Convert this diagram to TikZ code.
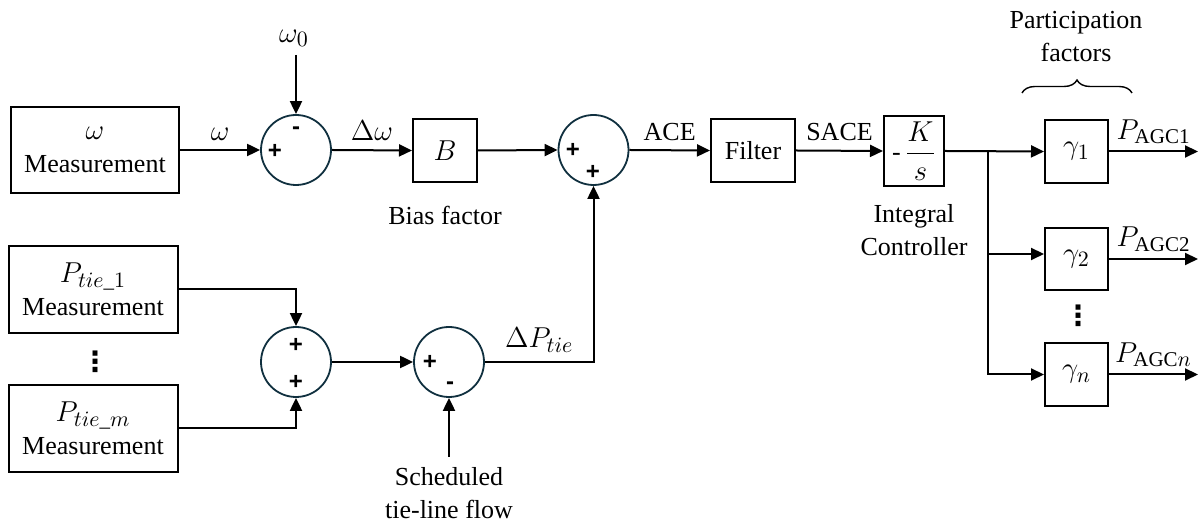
\documentclass[tikz,border=0pt]{standalone}
\usepackage{amsmath}
\usepackage{fontspec}
\setmainfont{Liberation Serif}
\newfontfamily\signfont{Liberation Sans}
\newfontfamily\dotfont{DejaVu Sans}
\usetikzlibrary{arrows.meta,decorations.pathreplacing,calc}
\definecolor{circcol}{HTML}{10303F}
\newcommand{\mth}[1]{{\fontsize{15}{16.5}\selectfont$#1$}}
\begin{document}
\begin{tikzpicture}[x=0.5pt,y=-0.5pt,
  font=\rmfamily\fontsize{13}{16.5}\selectfont,
  blk/.style={draw,line width=1pt,inner sep=0pt,align=center},
  sumc/.style={draw=circcol,line width=0.9pt,circle,minimum size=35pt,inner sep=0pt},
  sgn/.style={font=\signfont\bfseries\fontsize{12}{12}\selectfont,inner sep=0pt},
  vdot/.style={font=\dotfont\bfseries\fontsize{14}{14}\selectfont,inner sep=0pt},
  arr/.style={line width=1pt,-{Triangle[length=6.5pt,width=6pt]}},
  lbl/.style={inner sep=1pt}]
\useasboundingbox (0,0) rectangle (1200,522);

% top row
\node[blk,minimum width=84pt,minimum height=43pt] (wm) at (95,150) {\mth{\omega}\\Measurement};
\node[sumc] (s1) at (296,150) {};
\node[sgn] at (296,131) {-};
\node[sgn] at (275,151) {+};
\node[lbl] (w0) at (294,38) {\mth{\omega_0}};
\coordinate (w0s) at (296,55);
\node[blk,minimum width=32pt,minimum height=31.5pt] (b) at (445,150.5) {\mth{B}};
\node[lbl] (bias) at (445,215) {Bias factor};
\node[sumc] (s2) at (593.5,150) {};
\node[sgn] at (573,150) {+};
\node[sgn] at (593,172) {+};
\node[blk,minimum width=42pt,minimum height=31.5pt] (f) at (753,150.5) {Filter};
\node[blk,minimum width=30pt,minimum height=35pt] (k) at (914,151) {-\,{\fontsize{14}{16}\selectfont$\dfrac{K}{s}$}};
\node[lbl,align=center] (ic) at (914,230) {Integral\\Controller};
\coordinate (br) at (988,151);

\node[blk,minimum width=31.5pt,minimum height=31.5pt] (g1) at (1076.5,151.5) {\mth{\gamma_1}};
\node[blk,minimum width=31.5pt,minimum height=31pt] (g2) at (1076.5,259) {\mth{\gamma_2}};
\node[blk,minimum width=31.5pt,minimum height=31.5pt] (gn) at (1076.5,374.5) {\mth{\gamma_n}};
\node[vdot] (gd) at (1078,316) {⋮};
\coordinate (o1) at (1198,151.5);
\coordinate (o2) at (1198,259);
\coordinate (on) at (1198,374.5);
\node[lbl,align=center] (pf) at (1076,37) {Participation\\factors};
\coordinate (bl) at (1022,93);
\coordinate (brr) at (1132,93);

% bottom
\node[blk,minimum width=84.5pt,minimum height=43.5pt] (pt1) at (93,289.5) {\mth{P_{tie\_1}}\\Measurement};
\node[vdot] (pd) at (95,362) {⋮};
\node[blk,minimum width=84.5pt,minimum height=43.5pt] (ptm) at (93,428.5) {\mth{P_{tie\_m}}\\Measurement};
\node[sumc] (s3) at (296,362) {};
\node[sgn] at (296,345) {+};
\node[sgn] at (296,382) {+};
\node[sumc] (s4) at (449,362) {};
\node[sgn] at (430,362) {+};
\node[sgn] at (450,386) {-};
\node[lbl,align=center] (sch) at (449,493) {Scheduled\\tie-line flow};
\coordinate (schs) at (449,457);

% connectors
\draw[arr] (wm.east) -- (s1.west) node[midway,above=1pt] {\mth{\omega}};
\draw[arr] (w0s) -- (s1.north);
\draw[arr] (s1.east) -- (b.west) node[midway,above=1pt] {\mth{\Delta\omega}};
\draw[arr] (b.east) -- (s2.west);
\draw[arr] (s2.east) -- (f.west) node[midway,above=1pt] {ACE};
\draw[arr] (f.east) -- (k.west) node[midway,above=1pt] {SACE};
\draw[arr] (k.east) -- (g1.west);
\draw[arr] (br) |- ([yshift=2.5pt]g2.west);
\draw[arr] (br) |- (gn.west);
\draw[arr] (g1.east) -- (o1) node[midway,above=0pt] {\mth{P_{\mathrm{AGC1}}}};
\draw[arr] (g2.east) -- (o2) node[midway,above=0pt] {\mth{P_{\mathrm{AGC2}}}};
\draw[arr] (gn.east) -- (on) node[midway,above=0pt] {\mth{P_{\mathrm{AGC}n}}};
\draw[line width=0.7pt,decorate,decoration={brace,amplitude=6.5pt}] (bl) -- (brr);

\draw[arr] (pt1.east) -| (s3.north);
\draw[arr] (ptm.east) -| (s3.south);
\draw[arr] (s3.east) -- (s4.west);
\draw[arr] (schs) -- (s4.south);
\draw[arr] (s4.east) -| (s2.south) node[pos=0.25,above=1pt] {\mth{\Delta P_{tie}}};
\end{tikzpicture}
\end{document}
